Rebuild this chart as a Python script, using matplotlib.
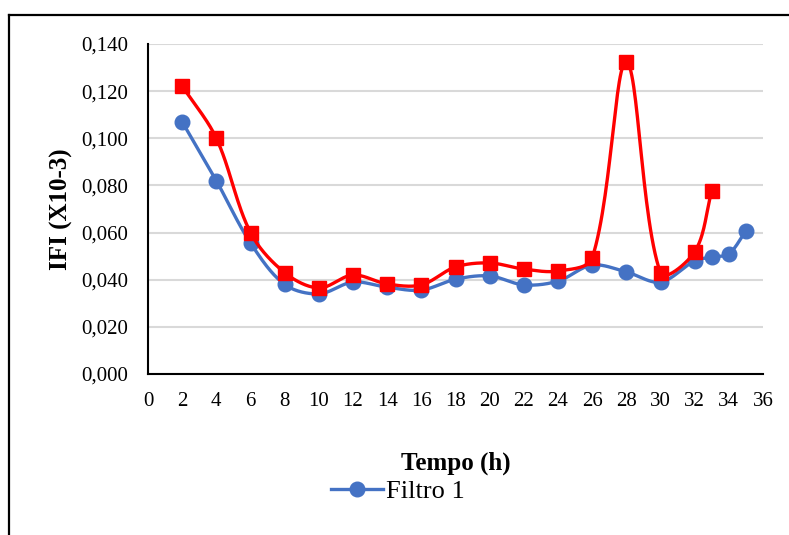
import numpy as np
import matplotlib
matplotlib.use("Agg")
import matplotlib.pyplot as plt
from matplotlib.lines import Line2D
from matplotlib.ticker import FuncFormatter, MultipleLocator

# data
tempo_f1 = [2, 4, 6, 8, 10, 12, 14, 16, 18, 20, 22, 24, 26, 28, 30, 32, 33, 34, 35]
ifi_f1 = [0.107, 0.082, 0.0556, 0.038, 0.034, 0.039, 0.0368, 0.0356, 0.0402, 0.0416,
          0.0378, 0.0394, 0.0462, 0.0433, 0.039, 0.048, 0.0496, 0.051, 0.0607]

tempo_f2 = [2, 4, 6, 8, 10, 12, 14, 16, 18, 20, 22, 24, 26, 28, 30, 32, 33]
ifi_f2 = [0.1222, 0.100, 0.060, 0.043, 0.0365, 0.042, 0.0382, 0.0378, 0.0454, 0.0471,
          0.0445, 0.0437, 0.0492, 0.1324, 0.0429, 0.0518, 0.0776]

yticks = [0.0, 0.02, 0.04, 0.06, 0.08, 0.10, 0.12, 0.14]

# pixels per data unit, so the smoothing happens in screen space like excel
SX = 615 / 36
SY = 330 / 0.14


def smooth(x, y, n=30):
    # excel-like smoothed line: bezier, tangent lengths split by segment length
    P = np.column_stack([np.asarray(x, float) * SX, np.asarray(y, float) * SY])
    m = len(P)
    ctrl_out, ctrl_in = [], []
    for i in range(m):
        prv = P[max(i - 1, 0)]
        nxt = P[min(i + 1, m - 1)]
        T = nxt - prv
        dp = np.linalg.norm(P[i] - prv)
        dn = np.linalg.norm(nxt - P[i])
        tot = dp + dn if dp + dn > 0 else 1
        ctrl_out.append(P[i] + T * dn / tot / 3)
        ctrl_in.append(P[i] - T * dp / tot / 3)
    t = np.linspace(0, 1, n)[:, None]
    xs, ys = [], []
    for i in range(m - 1):
        p0, p1, p2, p3 = P[i], ctrl_out[i], ctrl_in[i + 1], P[i + 1]
        b = (1 - t) ** 3 * p0 + 3 * (1 - t) ** 2 * t * p1 + 3 * (1 - t) * t ** 2 * p2 + t ** 3 * p3
        xs.extend(b[:, 0] / SX)
        ys.extend(b[:, 1] / SY)
    return xs, ys


plt.rcParams['font.family'] = ['Liberation Serif', 'DejaVu Serif']

fig = plt.figure(figsize=(7.89, 5.35), dpi=100)
ax = fig.add_axes([148 / 789, 1 - 374 / 535, (763 - 148) / 789, (374 - 44) / 535])

blue = '#4472C4'
red = '#FF0000'

sx, sy = smooth(tempo_f1, ifi_f1)
ax.plot(sx, sy, color=blue, lw=2.4, zorder=3)
ax.plot(tempo_f1, ifi_f1, 'o', color=blue, ms=10.5, zorder=4)

sx, sy = smooth(tempo_f2, ifi_f2)
ax.plot(sx, sy, color=red, lw=2.4, zorder=5)
ax.plot(tempo_f2, ifi_f2, 's', color=red, ms=10, zorder=6)

ax.set_xlim(0, 36)
ax.set_ylim(0, 0.14)
ax.xaxis.set_major_locator(MultipleLocator(2))
ax.set_yticks(yticks)
ax.yaxis.set_major_formatter(FuncFormatter(lambda v, p: f"{v:.3f}".replace('.', ',')))
ax.grid(axis='y', color='#d9d9d9', lw=1.5)
ax.set_axisbelow(True)
for s in ['top', 'right']:
    ax.spines[s].set_visible(False)
for s in ['left', 'bottom']:
    ax.spines[s].set_linewidth(1.5)
    ax.spines[s].set_color('black')
ax.tick_params(length=0, labelsize=15)
ax.tick_params(axis='y', pad=14)
ax.tick_params(axis='x', pad=13)

ax.set_ylabel('IFI (X10-3)', fontsize=18, fontweight='bold', labelpad=6)
ax.set_xlabel('Tempo (h)', fontsize=18, fontweight='bold', labelpad=29)

handle = Line2D([], [], color=blue, lw=2.4, marker='o', ms=10.5)
fig.legend([handle], ['Filtro 1'], loc='center', bbox_to_anchor=(0.504, 0.082),
           frameon=False, fontsize=19, handlelength=2.0, handletextpad=0.1)

# outer chart frame (partially visible)
fig.add_artist(Line2D([9 / 789, 9 / 789], [0, 1 - 15 / 535], color='black', lw=1.6))
fig.add_artist(Line2D([9 / 789, 1], [1 - 15 / 535, 1 - 15 / 535], color='black', lw=1.6))

fig.savefig('out.png', dpi=100)
